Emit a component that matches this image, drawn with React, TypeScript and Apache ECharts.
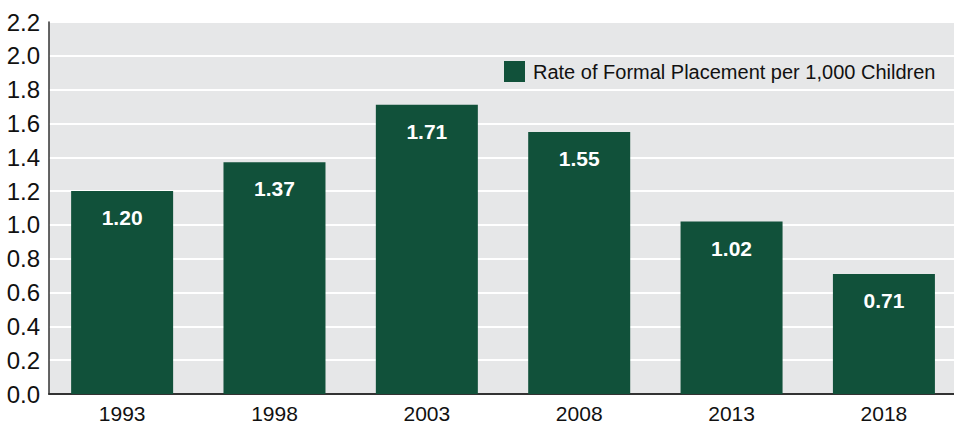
import React, { useEffect, useRef } from "react";
import * as echarts from "echarts";

const years = [1993, 1998, 2003, 2008, 2013, 2018];
const rates = [1.2, 1.37, 1.71, 1.55, 1.02, 0.71];
const seriesName = "Rate of Formal Placement per 1,000 Children";
const yMin = 0;
const yMax = 2.2;
const yInterval = 0.2;
const xMin = 1990.6;
const xMax = 2020.3;

const FONT = '"Liberation Sans", Arial, sans-serif';
const BAR = "#11513a";

export default function App() {
  const ref = useRef<HTMLDivElement>(null);
  useEffect(() => {
    const chart = echarts.init(ref.current!, null, { renderer: "svg" });
    chart.setOption({
      animation: false,
      backgroundColor: "#ffffff",
      grid: {
        left: 49,
        right: 0,
        top: 22,
        bottom: 28,
        show: true,
        backgroundColor: "#e6e7e8",
        borderWidth: 0,
      },
      legend: {
        left: 504,
        top: 61,
        padding: 0,
        itemWidth: 21,
        itemHeight: 21,
        icon: "rect",
        textStyle: { fontFamily: FONT, fontSize: 20, color: "#111", padding: [0, 0, 0, 3] },
        data: [seriesName],
      },
      xAxis: {
        type: "value",
        min: xMin,
        max: xMax,
        splitLine: { show: false },
        axisLine: { show: true, lineStyle: { color: "#333", width: 2 } },
        axisTick: { show: false },
        axisLabel: {
          customValues: years,
          fontFamily: FONT,
          fontSize: 21,
          color: "#111",
          margin: 9,
          formatter: (v: number) => String(Math.round(v)),
        },
      },
      yAxis: {
        type: "value",
        min: yMin,
        max: yMax,
        interval: yInterval,
        axisLine: { show: true, lineStyle: { color: "#333", width: 1.5 } },
        axisTick: { show: false },
        splitLine: { show: true, lineStyle: { color: "#ffffff", width: 2 } },
        axisLabel: {
          fontFamily: FONT,
          fontSize: 24,
          color: "#111",
          margin: 9,
          formatter: (v: number) => v.toFixed(1),
        },
      },
      series: [
        {
          name: seriesName,
          type: "bar",
          data: years.map((y, i) => [y, rates[i]]),
          barWidth: 102,
          itemStyle: { color: BAR },
          label: {
            show: true,
            position: "insideTop",
            distance: 16,
            fontFamily: FONT,
            fontSize: 21,
            fontWeight: "bold",
            color: "#ffffff",
            formatter: (p: any) => Number(p.value[1]).toFixed(2),
          },
        },
      ],
    });
    return () => chart.dispose();
  }, []);
  return <div ref={ref} style={{ position: "fixed", left: 0, top: 0, width: 954, height: 424 }} />;
}
